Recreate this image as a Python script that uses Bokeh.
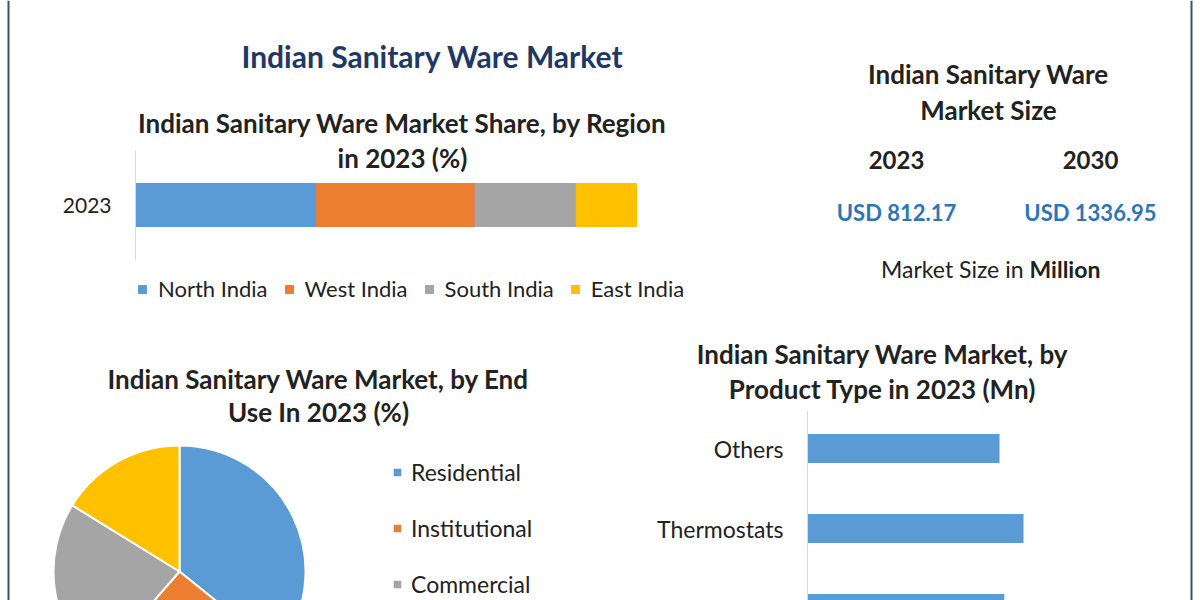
from bokeh.plotting import figure
from bokeh.models import (Range1d, LinearAxis, FixedTicker, ColumnDataSource,
                          Legend, LegendItem, Span)
from bokeh.core.properties import value
from bokeh.embed import file_html
from bokeh.resources import INLINE
import math

# ---------------- data ----------------
main_title = "Indian Sanitary Ware Market"

region_title = ["Indian Sanitary Ware Market Share, by Region", "in 2023 (%)"]
region_year = "2023"
regions = ["North India", "West India", "South India", "East India"]
region_share = [36.1, 31.7, 20.2, 12.0]
region_colors = ["#5b9bd5", "#ed7d31", "#a5a5a5", "#ffc000"]

size_title = ["Indian Sanitary Ware", "Market Size"]
size_years = ["2023", "2030"]
size_values = [812.17, 1336.95]
size_unit_prefix = "Market Size in"
size_unit = "Million"

enduse_title = ["Indian Sanitary Ware Market, by End", "Use In 2023 (%)"]
enduse = ["Residential", "Institutional", "Commercial", "Others"]
enduse_share = [35.8, 25.6, 22.4, 16.2]
enduse_colors = ["#5b9bd5", "#ed7d31", "#a5a5a5", "#ffc000"]

product_title = ["Indian Sanitary Ware Market, by", "Product Type in 2023 (Mn)"]
products = ["Water Closets", "Thermostats", "Others"]      # bottom -> top
product_values = [123, 135, 120]
product_color = "#5b9bd5"

# ---------------- layout / style constants ----------------
W, H = 1200, 600
FONT_NAME = "Lato"
FONT = value(FONT_NAME)
TXT = "#222222"
NAVY = "#1f3864"
KPI_BLUE = "#2e75b6"
AXIS_GRAY = "#d9d9d9"
BORDER = "#3f5157"
SUB = "26px"


def xr(px_origin, px_per_unit):
    return Range1d(-px_origin / px_per_unit, (W - px_origin) / px_per_unit)


def yr(px_origin, px_per_unit):
    # data grows upward; px measured from top of canvas
    return Range1d((px_origin - H) / px_per_unit, px_origin / px_per_unit)


p = figure(width=W, height=H, x_range=Range1d(0, W), y_range=Range1d(H, 0),
           output_backend="svg", toolbar_location=None, title=None,
           x_axis_location=None, y_axis_location=None, min_border=0,
           outline_line_color=None, background_fill_color="white",
           border_fill_color="white")
p.grid.visible = False

# sub-chart coordinate systems
REG_PPU = 5.01
p.extra_x_ranges["reg_x"] = xr(135, REG_PPU)
p.extra_y_ranges["reg_y"] = yr(204.5, 100)
PIE_R = 126
p.extra_x_ranges["pie_x"] = xr(179, PIE_R)
p.extra_y_ranges["pie_y"] = yr(571, PIE_R)
PROD_PPU = 1.6
p.extra_x_ranges["prod_x"] = xr(807, PROD_PPU)
p.extra_y_ranges["prod_y"] = yr(608, 80)

# frame borders
p.add_layout(Span(location=8, dimension="height", line_color=BORDER, line_width=2))
p.add_layout(Span(location=1191, dimension="height", line_color=BORDER, line_width=2))


def txt(x, y, s, size, bold=True, color=TXT, align="center"):
    p.text(x=[x], y=[y], text=[s], text_font=FONT, text_font_size=size,
           text_font_style="bold" if bold else "normal", text_color=color,
           text_align=align, text_baseline="middle")


# ---------------- top-left: region share ----------------
txt(432, 55, main_title, "30px", color=NAVY)
txt(402, 122, region_title[0], SUB)
txt(402, 157, region_title[1], SUB)

src = ColumnDataSource(dict(y=[0], **{r: [v] for r, v in zip(regions, region_share)}))
rs = p.hbar_stack(regions, y="y", height=0.43, color=region_colors, source=src,
                  x_range_name="reg_x", y_range_name="reg_y")

reg_axis = LinearAxis(x_range_name="reg_x", y_range_name="reg_y", fixed_location=0,
                      ticker=FixedTicker(ticks=[0]),
                      major_label_overrides={0: region_year},
                      bounds=(-0.555, 0.545), axis_line_color=AXIS_GRAY,
                      major_tick_line_color=None, minor_tick_line_color=None,
                      major_tick_out=0, major_tick_in=0,
                      major_label_standoff=24, major_label_text_font=FONT_NAME,
                      major_label_text_font_size="21px",
                      major_label_text_color=TXT)
p.add_layout(reg_axis, "left")

reg_leg = Legend(items=[LegendItem(label=r, renderers=[rr]) for r, rr in zip(regions, rs)],
                 orientation="horizontal", location=(137, H - 302),
                 glyph_width=10, glyph_height=10, label_standoff=11, spacing=16,
                 padding=0, margin=0, border_line_color=None, background_fill_alpha=0,
                 label_text_font=FONT_NAME, label_text_font_size="22px",
                 label_text_color=TXT, label_height=22)
p.add_layout(reg_leg)

# ---------------- top-right: market size ----------------
txt(988, 73, size_title[0], SUB)
txt(988, 109, size_title[1], SUB)
kpi_x = [896, 1090]
ksrc = ColumnDataSource(dict(x=kpi_x, yr=size_years,
                             val=[f"USD {v:.2f}" for v in size_values]))
p.text(x="x", y=159, text="yr", source=ksrc, text_font=FONT, text_font_size="24px",
       text_font_style="bold", text_color=TXT, text_align="center", text_baseline="middle")
p.text(x="x", y=212, text="val", source=ksrc, text_font=FONT, text_font_size="22px",
       text_font_style="bold", text_color=KPI_BLUE, text_align="center",
       text_baseline="middle")
txt(1023, 268, size_unit_prefix, "23px", bold=False, align="right")
txt(1029, 268, size_unit, "23px", bold=True, align="left")

# ---------------- bottom-left: end use pie ----------------
txt(318, 378, enduse_title[0], SUB)
txt(318, 411, enduse_title[1], SUB)

cum = [0.0]
for s in enduse_share:
    cum.append(cum[-1] + s)
tot = cum[-1]
starts = [math.pi / 2 - 2 * math.pi * c / tot for c in cum[:-1]]
ends = [math.pi / 2 - 2 * math.pi * c / tot for c in cum[1:]]
psrc = ColumnDataSource(dict(name=enduse, share=enduse_share, start=starts, end=ends,
                             color=enduse_colors))
wr = p.wedge(x=0, y=0, radius=1, start_angle="start", end_angle="end", direction="clock",
             fill_color="color", line_color="white", line_width=2, source=psrc,
             x_range_name="pie_x", y_range_name="pie_y")
pie_leg = Legend(items=[LegendItem(label=n, renderers=[wr], index=i) for i, n in enumerate(enduse)],
                 orientation="vertical", location=(391, -54),
                 glyph_width=12, glyph_height=12, label_standoff=8, spacing=28,
                 padding=0, margin=0, border_line_color=None, background_fill_alpha=0,
                 label_text_font=FONT_NAME, label_text_font_size="23px",
                 label_text_color=TXT, label_height=24)
p.add_layout(pie_leg)

# ---------------- bottom-right: product type ----------------
txt(882, 353, product_title[0], SUB)
txt(882, 388, product_title[1], SUB)
prsrc = ColumnDataSource(dict(y=list(range(len(products))), v=product_values))
p.hbar(y="y", left=0, right="v", height=0.3625, source=prsrc, fill_color=product_color,
       line_color=None, x_range_name="prod_x", y_range_name="prod_y")
prod_axis = LinearAxis(x_range_name="prod_x", y_range_name="prod_y", fixed_location=0,
                       ticker=FixedTicker(ticks=list(range(len(products)))),
                       major_label_overrides={i: n for i, n in enumerate(products)},
                       bounds=(-1.0, 2.475), axis_line_color=AXIS_GRAY,
                       major_tick_line_color=None, minor_tick_line_color=None,
                       major_tick_out=0, major_tick_in=0,
                       major_label_standoff=24, major_label_text_font=FONT_NAME,
                       major_label_text_font_size="23px",
                       major_label_text_color=TXT)
p.add_layout(prod_axis, "left")

open("out.html", "w").write(file_html(p, INLINE))
